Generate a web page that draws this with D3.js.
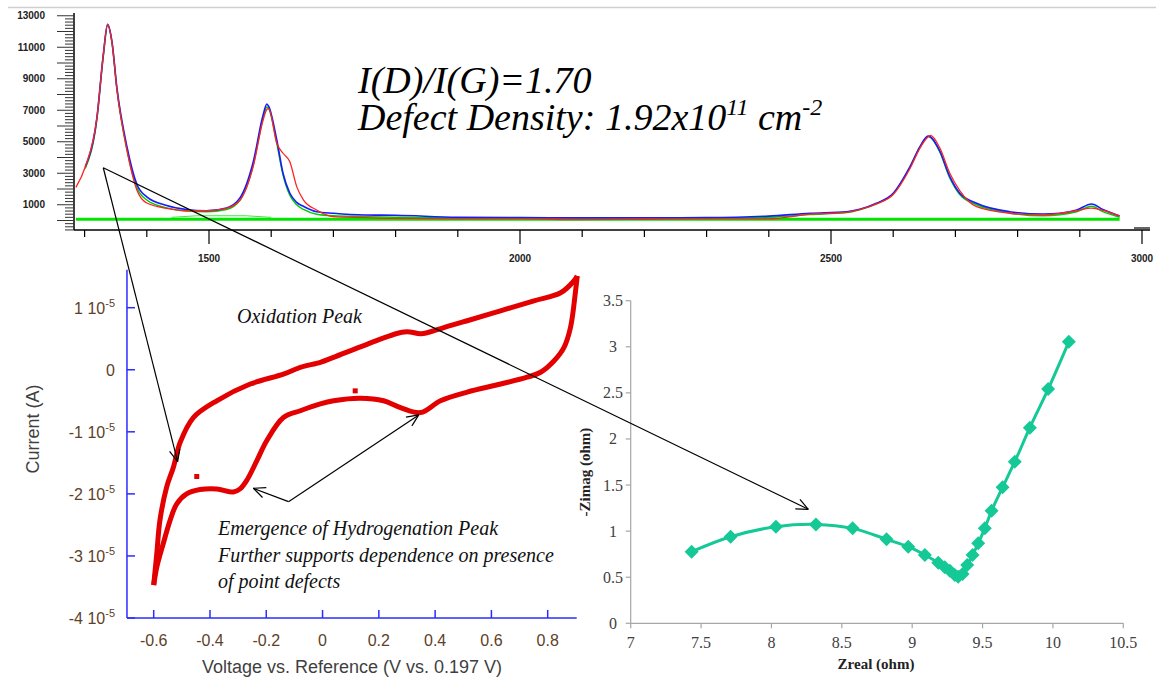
<!DOCTYPE html>
<html><head><meta charset="utf-8">
<script src="https://cdn.jsdelivr.net/npm/d3@7"></script>
<style>body{margin:0;background:#fff}svg{display:block}</style>
</head><body>
<svg id="c" width="1156" height="680"></svg>
<script>
// ---------------- Raman spectrum (top) ----------------
const ramanShift     = [1286,1301,1320,1330,1337,1344,1352,1368,1384,1400,1432,1464,1496,1528,1550,1571,1587,1593,1596,1609,1619,1630,1641,1652,1673,1700,1750,1800,1900,2000,2100,2200,2300,2400,2466,2525,2546,2573,2600,2627,2643,2656,2660,2675,2691,2707,2734,2787,2841,2868,2895,2919,2937,2964];
const ramanMeasured  = [2100,3400,6600,10500,12450,11300,8300,4480,1940,1110,775,620,620,775,1300,3420,6380,7050,7100,4900,4270,3730,2150,1300,670,240,180,130,100,100,60,80,100,100,400,520,690,1050,1650,3300,4600,5300,5400,4600,3000,1900,880,460,350,450,620,780,650,290];
const ramanFit       = [null,3400,6600,10500,12450,11350,8400,4700,2300,1500,950,700,620,800,1450,3700,6700,7400,7250,5110,3000,1730,1150,900,560,460,350,330,200,180,170,170,180,280,460,560,710,1090,1730,3420,4690,5365,5300,4400,2780,1730,1090,560,410,460,670,1050,700,290];
const ramanComponent = [null,3300,6500,10400,12400,11300,8300,4500,2100,1300,800,600,560,700,1300,3500,6500,7200,7100,4900,2900,1600,1000,700,400,300,250,200,150,150,140,140,150,200,380,500,680,1060,1700,3380,4650,5330,5280,4350,2700,1650,1000,480,300,360,560,900,560,200];
const ramanBaselineShift = [1286, 2964];
const ramanBaseline      = [80, 80];
const ramanBroadShift    = [1440, 1480, 1560, 1600];
const ramanBroad         = [200, 300, 300, 200];
const ramanYLabels = [1000, 3000, 5000, 7000, 9000, 11000, 13000];
const ramanXLabels = [1500, 2000, 2500, 3000];

// ---------------- Cyclic voltammogram (bottom left) ----------------
const cvForwardV = [-0.600,-0.589,-0.578,-0.554,-0.530,-0.506,-0.459,-0.376,-0.257,-0.139,-0.079,-0.008,0.039,0.158,0.277,0.310,0.350,0.431,0.514,0.632,0.751,0.846,0.893,0.905];
const cvForwardI = [-3.47e-5,-2.96e-5,-2.43e-5,-1.89e-5,-1.57e-5,-1.17e-5,-0.77e-5,-0.50e-5,-0.23e-5,-0.07e-5,0.04e-5,0.12e-5,0.20e-5,0.41e-5,0.60e-5,0.61e-5,0.58e-5,0.68e-5,0.79e-5,0.95e-5,1.11e-5,1.24e-5,1.43e-5,1.51e-5];
const cvReverseV = [0.905,0.899,0.881,0.858,0.822,0.775,0.727,0.633,0.514,0.419,0.348,0.277,0.217,0.134,0.039,-0.008,-0.079,-0.139,-0.198,-0.233,-0.269,-0.293,-0.317,-0.376,-0.435,-0.483,-0.518,-0.542,-0.566,-0.589,-0.600];
const cvReverseI = [1.51e-5,1.27e-5,0.68e-5,0.36e-5,0.14e-5,-0.04e-5,-0.12e-5,-0.23e-5,-0.36e-5,-0.50e-5,-0.69e-5,-0.61e-5,-0.50e-5,-0.46e-5,-0.50e-5,-0.55e-5,-0.66e-5,-0.77e-5,-1.14e-5,-1.46e-5,-1.78e-5,-1.92e-5,-1.97e-5,-1.92e-5,-1.93e-5,-2.00e-5,-2.16e-5,-2.43e-5,-2.80e-5,-3.18e-5,-3.47e-5];
const cvStrayV = [-0.447, 0.116];
const cvStrayI = [-1.72e-5, -0.34e-5];
const cvXTicks = [-0.6,-0.4,-0.2,0,0.2,0.4,0.6,0.8];
const cvYTicks = [1,0,-1,-2,-3,-4]; // in units of 10^-5 A

// ---------------- Nyquist plot (bottom right) ----------------
const eisZreal = [7.433,7.710,8.032,8.316,8.577,8.818,8.972,9.090,9.185,9.232,9.268,9.303,9.327,9.358,9.391,9.429,9.469,9.516,9.564,9.642,9.729,9.836,9.966,10.113];
const eisZimag = [0.777,0.939,1.048,1.073,1.030,0.911,0.831,0.741,0.657,0.607,0.571,0.524,0.506,0.535,0.632,0.741,0.868,1.030,1.221,1.475,1.753,2.122,2.541,3.054];
const eisXTicks = [7,7.5,8,8.5,9,9.5,10,10.5];
const eisYTicks = [0,0.5,1,1.5,2,2.5,3,3.5];

const svg = d3.select("#c");
svg.append("rect").attr("width",1156).attr("height",680).attr("fill","#fff");
svg.append("line").attr("x1",8).attr("x2",1156).attr("y1",7.5).attr("y2",7.5).attr("stroke","#d0d0d0").attr("stroke-width",1.5);

const serif = "'Liberation Serif', 'DejaVu Serif', serif";
const sans = "'Liberation Sans', Arial, sans-serif";

// ===== Raman =====
const xR = d3.scaleLinear().domain([1500,3000]).range([209,1142]);
const yR = d3.scaleLinear().domain([0,13000]).range([220.5,15.75]);
const gR = svg.append("g");
const rAxisY = 230, rAxisX = 74;
gR.append("line").attr("x1",rAxisX).attr("x2",1150).attr("y1",rAxisY).attr("y2",rAxisY).attr("stroke","#000").attr("stroke-width",1.5);
gR.append("line").attr("x1",rAxisX).attr("x2",rAxisX).attr("y1",13).attr("y2",rAxisY).attr("stroke","#000").attr("stroke-width",1.5);
gR.selectAll(".ryt").data(d3.range(-600,13001,200)).join("line")
  .attr("x1", d => d % 1000 === 0 ? rAxisX-17 : rAxisX-9).attr("x2", rAxisX)
  .attr("y1", d => yR(d)).attr("y2", d => yR(d)).attr("stroke","#333").attr("stroke-width",1);
gR.selectAll(".rxt").data(d3.range(1300,3001,100)).join("line")
  .attr("x1", d => xR(d)).attr("x2", d => xR(d))
  .attr("y1", rAxisY).attr("y2", d => d % 500 === 0 ? rAxisY+14 : rAxisY+7)
  .attr("stroke","#000").attr("stroke-width",1.2);
gR.append("line").attr("x1",xR(3000)-8).attr("x2",xR(3000)+8).attr("y1",rAxisY-2).attr("y2",rAxisY-2).attr("stroke","#000").attr("stroke-width",1.2);
gR.selectAll(".ryl").data(ramanYLabels).join("text")
  .attr("x",45).attr("y", d => yR(d)+3.5).attr("text-anchor","end")
  .style("font-family",sans).attr("font-weight","bold").attr("font-size",10).attr("fill","#222")
  .text(d => d);
gR.selectAll(".rxl").data(ramanXLabels).join("text")
  .attr("x", d => xR(d)).attr("y",262).attr("text-anchor","middle")
  .style("font-family",sans).attr("font-weight","bold").attr("font-size",10).attr("fill","#222")
  .text(d => d);
const rLine = d3.line().defined(d => d[1] !== null).x(d => xR(d[0])).y(d => yR(d[1])).curve(d3.curveMonotoneX);
const zipR = arr => ramanShift.map((s,i) => [s, arr[i]]);
gR.append("path").attr("d", d3.line().x(d=>xR(d[0])).y(d=>yR(d[1]))(ramanBaselineShift.map((s,i)=>[s,ramanBaseline[i]])))
  .attr("fill","none").attr("stroke","#00e600").attr("stroke-width",3);
gR.append("path").attr("d", d3.line().x(d=>xR(d[0])).y(d=>yR(d[1]))(ramanBroadShift.map((s,i)=>[s,ramanBroad[i]])))
  .attr("fill","none").attr("stroke","#33ee33").attr("stroke-width",1);
gR.append("path").attr("d", rLine(zipR(ramanComponent))).attr("fill","none").attr("stroke","#00cc00").attr("stroke-width",1.5);
gR.append("path").attr("d", rLine(zipR(ramanFit))).attr("fill","none").attr("stroke","#1a1aff").attr("stroke-width",1.6);
gR.append("path").attr("d", rLine(zipR(ramanMeasured))).attr("fill","none").attr("stroke","#ff2222").attr("stroke-width",1.3);

const t1 = svg.append("text").attr("x",358).attr("y",93).style("font-family",serif).attr("font-style","italic").attr("font-size",38).attr("fill","#000");
t1.text("I(D)/I(G)=1.70");
const t2 = svg.append("text").attr("x",358).attr("y",130).style("font-family",serif).attr("font-style","italic").attr("font-size",38).attr("fill","#000");
t2.append("tspan").text("Defect Density: 1.92x10");
t2.append("tspan").attr("font-size",24).attr("dy",-15).text("11");
t2.append("tspan").attr("dy",15).text(" cm");
t2.append("tspan").attr("font-size",24).attr("dy",-15).text("-2");

// ===== CV =====
const xC = d3.scaleLinear().domain([-0.6,0.8]).range([153.7,547.7]);
const yC = d3.scaleLinear().domain([-4e-5,1e-5]).range([618,307.7]);
const gC = svg.append("g");
const cvBlue = "#2b2bff", cvLab = "#5e4128";
const cX0 = xC(-0.695), cX1 = xC(0.903), cYb = yC(-4e-5), cYt = yC(1.61e-5);
gC.append("line").attr("x1",cX0).attr("x2",cX0).attr("y1",cYt).attr("y2",cYb).attr("stroke",cvBlue).attr("stroke-width",1.5);
gC.append("line").attr("x1",cX0).attr("x2",cX1).attr("y1",cYb).attr("y2",cYb).attr("stroke",cvBlue).attr("stroke-width",1.5);
gC.selectAll(".cyt").data(cvYTicks).join("line").attr("x1",cX0).attr("x2",cX0+8)
  .attr("y1",d=>yC(d*1e-5)).attr("y2",d=>yC(d*1e-5)).attr("stroke",cvBlue).attr("stroke-width",1.5);
gC.selectAll(".cxt").data(cvXTicks).join("line").attr("x1",d=>xC(d)).attr("x2",d=>xC(d))
  .attr("y1",cYb).attr("y2",cYb-8).attr("stroke",cvBlue).attr("stroke-width",1.5);
gC.selectAll(".cyl").data(cvYTicks).join("text")
  .attr("x",115).attr("y",d=>yC(d*1e-5)+6).attr("text-anchor","end")
  .style("font-family",sans).attr("font-size",16).attr("fill",cvLab)
  .each(function(d){
    const t = d3.select(this);
    if (d === 0) { t.text("0"); return; }
    t.append("tspan").text(d + " 10");
    t.append("tspan").attr("font-size",11).attr("dy",-7).text("-5");
  });
gC.selectAll(".cxl").data(cvXTicks).join("text")
  .attr("x",d=>xC(d)).attr("y",646).attr("text-anchor","middle")
  .style("font-family",sans).attr("font-size",16).attr("fill",cvLab)
  .text(d => d === 0 ? "0" : d3.format(".1f")(d).replace("−","-"));
gC.append("text").attr("x",352).attr("y",673).attr("text-anchor","middle").style("font-family",sans).attr("font-size",18).attr("fill","#3f3f3f")
  .text("Voltage vs. Reference (V vs. 0.197 V)");
gC.append("text").attr("transform","translate(39,429) rotate(-90)").attr("text-anchor","middle").style("font-family",sans).attr("font-size",18).attr("fill","#3f3f3f")
  .text("Current (A)");
const cLine = d3.line().x(d=>xC(d[0])).y(d=>yC(d[1])).curve(d3.curveCatmullRom.alpha(0.5));
const cvRed = "#e30000";
gC.append("path").attr("d", cLine(cvForwardV.map((v,i)=>[v,cvForwardI[i]]))).attr("fill","none").attr("stroke",cvRed).attr("stroke-width",5).attr("stroke-linejoin","round");
gC.append("path").attr("d", cLine(cvReverseV.map((v,i)=>[v,cvReverseI[i]]))).attr("fill","none").attr("stroke",cvRed).attr("stroke-width",5).attr("stroke-linejoin","round");
gC.selectAll(".stray").data(cvStrayV.map((v,i)=>[v,cvStrayI[i]])).join("rect")
  .attr("x",d=>xC(d[0])-2.5).attr("y",d=>yC(d[1])-2.5).attr("width",5).attr("height",5).attr("fill",cvRed);

svg.append("text").attr("x",237).attr("y",323).style("font-family",serif).attr("font-style","italic").attr("font-size",20).attr("fill","#111").text("Oxidation Peak");
const annLines = ["Emergence of Hydrogenation Peak","Further supports dependence on presence","of point defects"];
svg.selectAll(".ann").data(annLines).join("text").attr("x",218).attr("y",(d,i)=>535+i*26.5)
  .style("font-family",serif).attr("font-style","italic").attr("font-size",20).attr("fill","#111").text(d=>d);

// ===== Nyquist =====
const xN = d3.scaleLinear().domain([7,10.5]).range([630.7,1123.3]);
const yN = d3.scaleLinear().domain([0,3.5]).range([623.3,300.7]);
const gN = svg.append("g");
const axG = "#a6a6a6";
gN.append("line").attr("x1",xN(7)).attr("x2",xN(7)).attr("y1",yN(3.5)).attr("y2",yN(0)).attr("stroke",axG).attr("stroke-width",1.2);
gN.append("line").attr("x1",xN(7)).attr("x2",xN(10.5)).attr("y1",yN(0)).attr("y2",yN(0)).attr("stroke",axG).attr("stroke-width",1.2);
gN.selectAll(".nyt").data(eisYTicks).join("line").attr("x1",xN(7)-5).attr("x2",xN(7)).attr("y1",d=>yN(d)).attr("y2",d=>yN(d)).attr("stroke",axG).attr("stroke-width",1.2);
gN.selectAll(".nxt").data(eisXTicks).join("line").attr("x1",d=>xN(d)).attr("x2",d=>xN(d)).attr("y1",yN(0)).attr("y2",yN(0)+5).attr("stroke",axG).attr("stroke-width",1.2);
gN.selectAll(".nyl").data(eisYTicks).join("text").attr("x",613).attr("y",d=>yN(d)+5.5).attr("text-anchor","middle")
  .style("font-family",serif).attr("font-size",16).attr("fill","#404040").text(d=>d);
gN.selectAll(".nxl").data(eisXTicks).join("text").attr("x",d=>xN(d)).attr("y",648).attr("text-anchor","middle")
  .style("font-family",serif).attr("font-size",16).attr("fill","#404040").text(d=>d);
gN.append("text").attr("x",876).attr("y",669).attr("text-anchor","middle").style("font-family",serif).attr("font-weight","bold").attr("font-size",15).attr("fill","#222").text("Zreal (ohm)");
gN.append("text").attr("transform","translate(590,472) rotate(-90)").attr("text-anchor","middle").style("font-family",serif).attr("font-weight","bold").attr("font-size",15).attr("fill","#222").text("-Zimag (ohm)");
const teal = "#14c996";
const eisPts = eisZreal.map((z,i)=>[z,eisZimag[i]]);
gN.append("path").attr("d", d3.line().x(d=>xN(d[0])).y(d=>yN(d[1])).curve(d3.curveCatmullRom.alpha(0.5))(eisPts))
  .attr("fill","none").attr("stroke",teal).attr("stroke-width",3);
gN.selectAll(".mk").data(eisPts).join("path")
  .attr("transform",d=>`translate(${xN(d[0])},${yN(d[1])})`)
  .attr("d","M0,-7L7,0L0,7L-7,0Z").attr("fill",teal);

// ===== Annotation arrows (in data coordinates of each panel) =====
const arrowOrigin = [1330, 3350];          // Raman (shift, intensity)
const arrowToCV   = [-0.515, -1.48e-5];    // CV (V, A)
const arrowToEIS  = [8.262, 1.237];        // Nyquist (ohm, ohm)
const hydroVertex = [-0.121, -2.125e-5];   // CV
const hydroTargets = [[-0.246, -1.91e-5], [0.342, -0.728e-5]];

function arrow(x1,y1,x2,y2){
  svg.append("line").attr("x1",x1).attr("y1",y1).attr("x2",x2).attr("y2",y2).attr("stroke","#000").attr("stroke-width",1.2);
  const a = Math.atan2(y2-y1,x2-x1), L = 13, w = 0.42;
  [a+Math.PI-w, a+Math.PI+w].forEach(b=>{
    svg.append("line").attr("x1",x2).attr("y1",y2).attr("x2",x2+L*Math.cos(b)).attr("y2",y2+L*Math.sin(b)).attr("stroke","#000").attr("stroke-width",1.2);
  });
}
const ox = xR(arrowOrigin[0]), oy = yR(arrowOrigin[1]);
arrow(ox, oy, xC(arrowToCV[0]), yC(arrowToCV[1]));
arrow(ox, oy, xN(arrowToEIS[0]), yN(arrowToEIS[1]));
hydroTargets.forEach(t => arrow(xC(hydroVertex[0]), yC(hydroVertex[1]), xC(t[0]), yC(t[1])));
</script>
</body></html>
